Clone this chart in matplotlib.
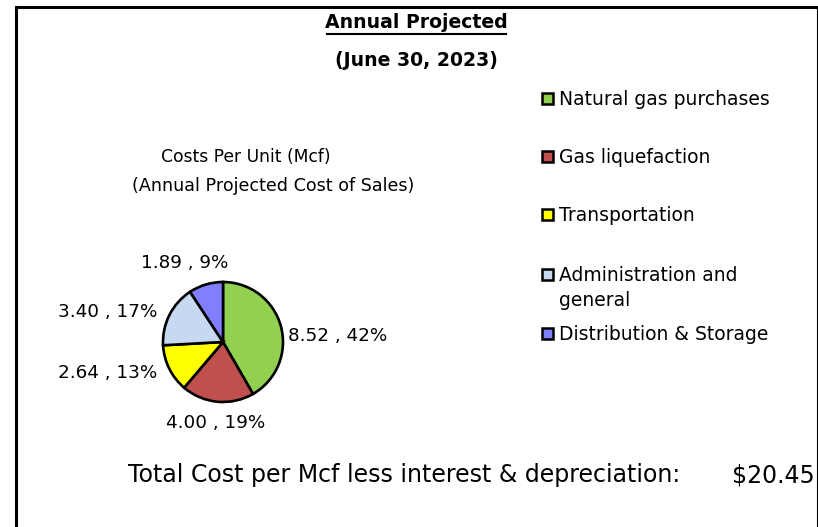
import matplotlib
matplotlib.use("Agg")
import matplotlib.pyplot as plt
from matplotlib.patches import Rectangle
from matplotlib.lines import Line2D

W, H = 818, 527
fig = plt.figure(figsize=(W/100, H/100), dpi=100)
fig.patch.set_facecolor("white")
plt.rcParams["font.family"] = ["DejaVu Sans"]

categories = ["Natural gas purchases", "Gas liquefaction", "Transportation",
              "Administration and\ngeneral", "Distribution & Storage"]
values = [8.52, 4.00, 2.64, 3.40, 1.89]
pct_labels = ["42%", "19%", "13%", "17%", "9%"]
colors = ["#92D050", "#C0504D", "#FFFF00", "#C6D9F1", "#8080FF"]
total_label = "$20.45"

def fx(x): return x / W
def fy(y): return 1 - y / H

# border
fig.add_artist(Line2D([fx(16), fx(16)], [fy(7), fy(527)], color="black", lw=2.2, transform=fig.transFigure))
fig.add_artist(Line2D([fx(16), fx(817)], [fy(7), fy(7)], color="black", lw=2.2, transform=fig.transFigure))
fig.add_artist(Line2D([fx(816.5), fx(816.5)], [fy(7), fy(527)], color="black", lw=0.8, transform=fig.transFigure))

# title
fig.text(fx(416), fy(22), "Annual Projected", ha="center", va="center",
         fontsize=13.6, fontweight="bold")
fig.add_artist(Line2D([fx(327), fx(506)], [fy(34), fy(34)], color="black", lw=1.5, transform=fig.transFigure))
fig.text(fx(416), fy(60), "(June 30, 2023)", ha="center", va="center",
         fontsize=13.6, fontweight="bold")

# subtitle
fig.text(fx(246), fy(157), "Costs Per Unit (Mcf)", ha="center", va="center", fontsize=12.3)
fig.text(fx(273), fy(186), "(Annual Projected Cost of Sales)", ha="center", va="center", fontsize=12.6)

# pie
r = 60
ax = fig.add_axes([fx(223 - r), fy(342 + r), 2*r/W, 2*r/H])
wedges, _ = ax.pie(values, colors=colors, startangle=90, counterclock=False,
                   wedgeprops=dict(edgecolor="black", linewidth=1.9))
for w in wedges:
    w.set_clip_on(False)
ax.set_xlim(-1, 1); ax.set_ylim(-1, 1)
ax.set_aspect("equal")
ax.axis("off")

label_pos = [(338, 336), (216, 423), (108, 373), (108, 312), (185, 263)]
for (x, y), v, p in zip(label_pos, values, pct_labels):
    fig.text(fx(x), fy(y), f"{v:.2f} , {p}", ha="center", va="center", fontsize=13.2)

# legend
leg_y = [99, 157, 215, 275, 334]
for yy, c, lab in zip(leg_y, colors, categories):
    fig.add_artist(Rectangle((fx(542), fy(yy + 5)), 11/W, 11/H, facecolor=c,
                             edgecolor="black", lw=1.8, transform=fig.transFigure))
    fig.text(fx(559), fy(yy - 9), lab, ha="left", va="top", fontsize=13.5,
             linespacing=1.4)

# total
fig.text(fx(128), fy(475), "Total Cost per Mcf less interest & depreciation:", ha="left", va="center",
         fontsize=17)
fig.text(fx(815), fy(475), total_label, ha="right", va="center", fontsize=17)

fig.savefig("out.png", dpi=100, facecolor="white")
